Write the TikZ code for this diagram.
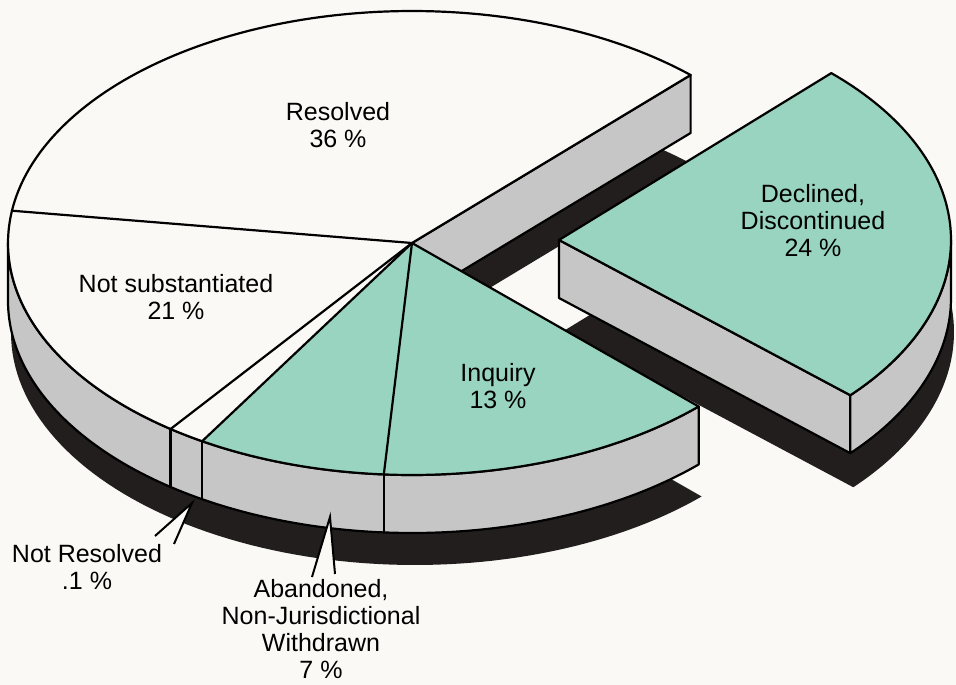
\documentclass[tikz,border=0pt]{standalone}
\usepackage{fontspec}
\setmainfont{Liberation Sans}
\usetikzlibrary{calc}
\definecolor{bgc}{RGB}{250,249,245}
\definecolor{pgreen}{RGB}{152,212,191}
\definecolor{pgrey}{RGB}{198,198,198}
\definecolor{pblack}{RGB}{34,30,30}
\tikzset{
  edge/.style={draw=black, line width=2.2pt, line join=round, line cap=round},
  wall/.style={fill=pgrey, draw=black, line width=2.2pt, line join=round},
  lbl/.style={align=center, font=\fontsize{25}{27}\selectfont, inner sep=0pt},
  pointer/.style={draw=black, line width=2pt, line join=miter}
}
\begin{document}
\begin{tikzpicture}[x=1pt,y=-1pt]
\useasboundingbox (0,0) rectangle (956,685);
\fill[bgc] (0,0) rectangle (956,685);
\clip (0,0) rectangle (956,685);
% main pie parameters
\def\Mcx{412}\def\Mcy{243}\def\Ma{404}\def\Mb{232}
\def\Wh{58}
% exploded slice parameters
\def\Ex{559}\def\Ey{240}\def\Ea{392}\def\Eb{232}
\coordinate (C) at (\Mcx,\Mcy);
\coordinate (E) at (\Ex,\Ey);
\coordinate (R1) at ({\Mcx+\Ma*cos(46.4)},{\Mcy-\Mb*sin(46.4)});
\coordinate (I1) at ({\Mcx+\Ma*cos(315.2)},{\Mcy-\Mb*sin(315.2)});
\coordinate (P172) at ({\Mcx+\Ma*cos(172)},{\Mcy-\Mb*sin(172)});
\coordinate (P233) at ({\Mcx+\Ma*cos(233.3)},{\Mcy-\Mb*sin(233.3)});
\coordinate (P238) at ({\Mcx+\Ma*cos(238.7)},{\Mcy-\Mb*sin(238.7)});
\coordinate (P266) at ({\Mcx+\Ma*cos(266)},{\Mcy-\Mb*sin(266)});
\coordinate (D1) at ({\Ex+\Ea*cos(318)},{\Ey-\Eb*sin(318)});
% ---- main pie shadow
\fill[pblack] ({\Mcx+3},{\Mcy+90}) -- plot[domain=46.4:315.2,samples=160] ({\Mcx+3+\Ma*cos(\x)},{\Mcy+90-\Mb*sin(\x)}) -- cycle;
% ---- main pie walls
\path[wall] plot[domain=180:315.2,samples=120] ({\Mcx+\Ma*cos(\x)},{\Mcy-\Mb*sin(\x)})
  -- plot[domain=315.2:180,samples=120] ({\Mcx+\Ma*cos(\x)},{\Mcy+\Wh-\Mb*sin(\x)}) -- cycle;
\path[wall] (C) -- (R1) -- ($(R1)+(0,\Wh)$) -- ($(C)+(0,\Wh)$) -- cycle;
\foreach \p in {P233,P238,P266} \draw[edge] (\p) -- ++(0,\Wh);
% ---- exploded slice
\fill[pblack] ({\Ex+3},{\Ey+92}) -- plot[domain=318:406,samples=120] ({\Ex+3+\Ea*cos(\x)},{\Ey+92-\Eb*sin(\x)}) -- cycle;
\path[wall] (E) -- (D1) -- ($(D1)+(0,\Wh)$) -- ($(E)+(0,\Wh)$) -- cycle;
\path[wall] plot[domain=318:360,samples=60] ({\Ex+\Ea*cos(\x)},{\Ey-\Eb*sin(\x)})
  -- plot[domain=360:318,samples=60] ({\Ex+\Ea*cos(\x)},{\Ey+\Wh-\Eb*sin(\x)}) -- cycle;
\path[edge, fill=pgreen] (E) -- plot[domain=318:406,samples=120] ({\Ex+\Ea*cos(\x)},{\Ey-\Eb*sin(\x)}) -- cycle;
% ---- main pie top
\fill[bgc] (C) -- plot[domain=46.4:238.7,samples=160] ({\Mcx+\Ma*cos(\x)},{\Mcy-\Mb*sin(\x)}) -- cycle;
\fill[pgreen] (C) -- plot[domain=238.7:315.2,samples=80] ({\Mcx+\Ma*cos(\x)},{\Mcy-\Mb*sin(\x)}) -- cycle;
\draw[edge] (C) -- plot[domain=46.4:315.2,samples=200] ({\Mcx+\Ma*cos(\x)},{\Mcy-\Mb*sin(\x)}) -- cycle;
\draw[edge] (C) -- (P172);
\draw[edge] (C) -- (P233);
\draw[edge] (C) -- (P238);
\draw[edge] (C) -- (P266);
% ---- labels
\node[lbl] (res) at (338,125) {Resolved\\36 \%};
\node[lbl] (nsub) at (176,297) {Not substantiated\\21 \%};
\node[lbl] (decl) at (813,221) {Declined,\\Discontinued\\24 \%};
\node[lbl] (inq) at (498,386) {Inquiry\\13 \%};
\node[lbl] (nres) at (87,567) {Not Resolved\\.1 \%};
\node[lbl] (aban) at (321,629) {Abandoned,\\Non-Jurisdictional\\Withdrawn\\7 \%};
% ---- pointers
\coordinate (nrtip) at (192,503);
\coordinate (nrl) at (155,536);
\coordinate (nrr) at (174,544);
\coordinate (abtip) at (330,517);
\coordinate (abl) at (312,577);
\coordinate (abr) at (335,574);
\fill[bgc] (nrl) -- (nrtip) -- (nrr) -- cycle;
\draw[pointer] (nrl) -- (nrtip) -- (nrr);
\fill[bgc] (abl) -- (abtip) -- (abr) -- cycle;
\draw[pointer] (abl) -- (abtip) -- (abr);
\end{tikzpicture}
\end{document}
